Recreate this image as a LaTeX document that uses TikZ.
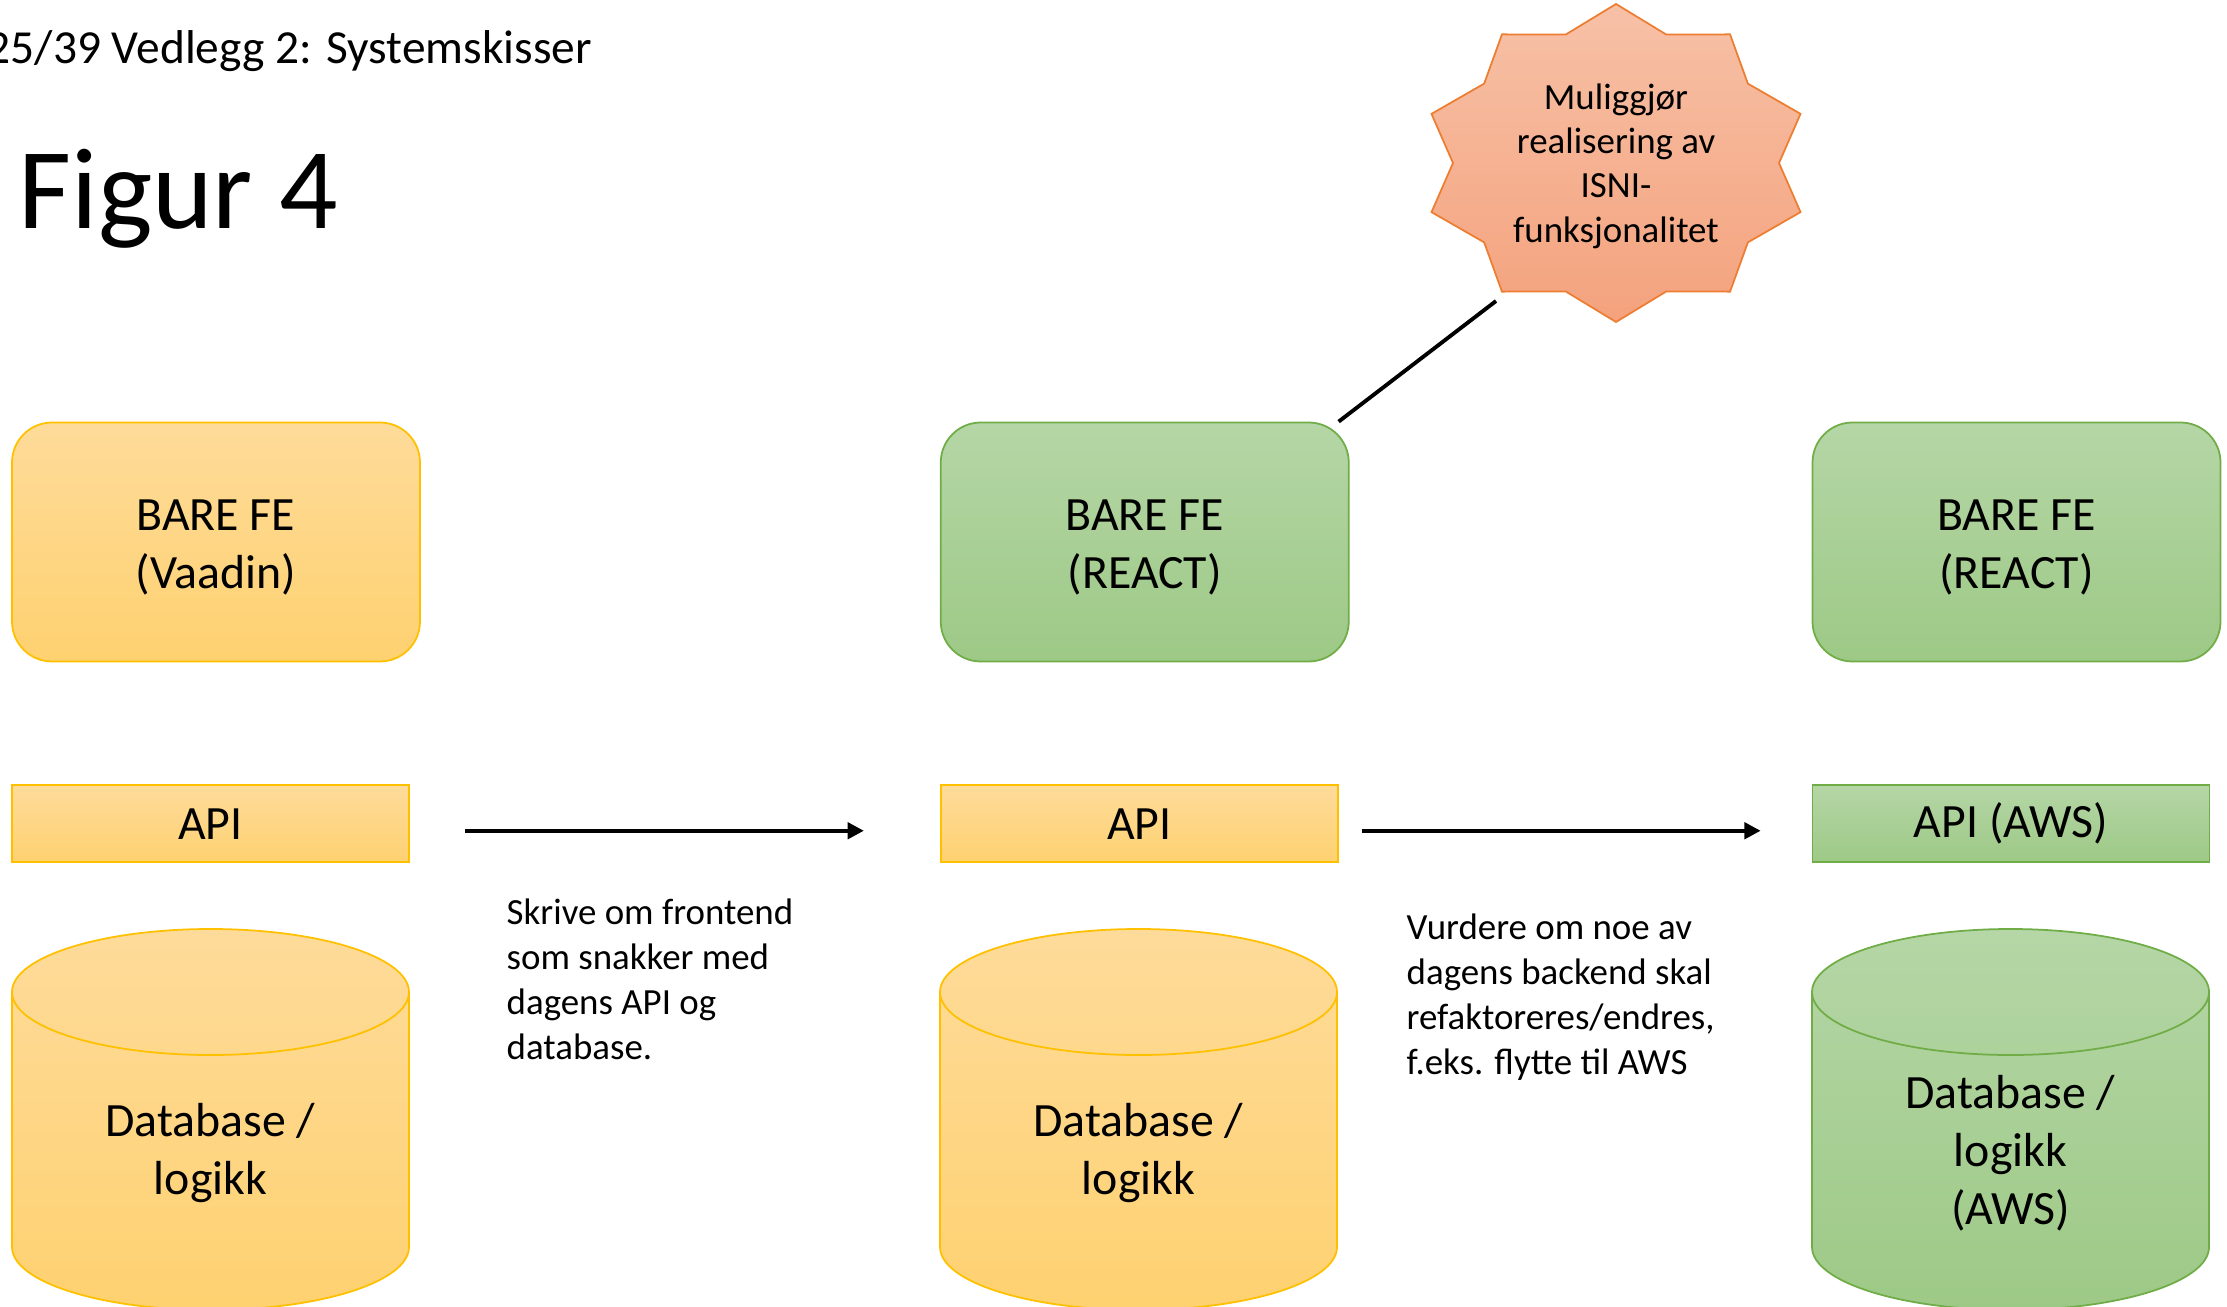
\documentclass[tikz,border=0pt]{standalone}
\usepackage{fontspec}
\setmainfont{Carlito}
\usepackage{tikz}
\usetikzlibrary{positioning}
\usetikzlibrary{shapes, arrows.meta, calc}
\definecolor{goldtop}{HTML}{FEDB9A}
\definecolor{goldbot}{HTML}{FED170}
\definecolor{goldline}{HTML}{FFC000}
\definecolor{greentop}{HTML}{B5D6A6}
\definecolor{greenbot}{HTML}{9DC986}
\definecolor{greenline}{HTML}{70AD47}
\definecolor{bursttop}{HTML}{F7C1A7}
\definecolor{burstbot}{HTML}{F4A27D}
\definecolor{burstline}{HTML}{ED7D31}
\newcommand{\toprule}{\rule{0pt}{12pt}}
\tikzstyle{febox} = [rectangle, draw, rounded corners=4mm, minimum width=40.8mm, minimum height=23.9mm,
inner sep=0pt, align=center, line width=0.5pt, font=\fontsize{13.6}{16.5}\selectfont]
\tikzstyle{apibox} = [rectangle, draw, minimum width=39.7mm, minimum height=7.7mm, inner sep=0pt,
line width=0.5pt, font=\fontsize{13.6}{16.5}\selectfont]
\tikzstyle{goldfill} = [top color=goldtop, bottom color=goldbot, draw=goldline]
\tikzstyle{greenfill} = [top color=greentop, bottom color=greenbot, draw=greenline]
\tikzstyle{dbtext} = [align=center, inner sep=0pt, font=\fontsize{13.6}{16.5}\selectfont]
\tikzstyle{note} = [align=left, inner sep=0pt, anchor=north west, font=\fontsize{10.5}{12.8}\selectfont]
\tikzstyle{flow} = [draw, line width=1.1pt, -{Triangle[length=4.6pt, width=4.6pt]}]

\begin{document}
\begin{tikzpicture}[x=0.1mm, y=-0.1mm]
	\useasboundingbox (0,0) rectangle (2227,1307);
	
	% Titles
	\node [anchor=base west, inner sep=0pt, font=\fontsize{13.5}{16}\selectfont] (header) at (-14,64) {25/39 Vedlegg 2: Systemskisser};
	\node [anchor=base west, inner sep=0pt, font=\fontsize{32.8}{40}\selectfont] (figtitle) at (18,229) {Figur 4};
	
	% Place frontend boxes
	\node [febox, goldfill] 						(fe1) at (216,542) 	{\toprule BARE FE\\(Vaadin)};
	\node [febox, greenfill, right=51.9mm of fe1] 	(fe2) 				{\toprule BARE FE\\(REACT)};
	\node [febox, greenfill, right=46.2mm of fe2] 	(fe3) 				{\toprule BARE FE\\(REACT)};
	
	% API layer
	\node [apibox, goldfill, below=12.2mm of fe1.south west, anchor=north west] 	(api1) 	{API};
	\node [apibox, goldfill, below=12.2mm of fe2.south west, anchor=north west] 	(api2) 	{API};
	\node [apibox, greenfill, below=12.2mm of fe3.south west, anchor=north west] 	(api3) 	{API (AWS)};
	
	% Databases
	\foreach \xl/\fa/\fb/\rim in {12/goldtop/goldbot/goldline, 940/goldtop/goldbot/goldline, 1812/greentop/greenbot/greenline} {
		\draw [line width=0.5pt, draw=\rim, top color=\fa, bottom color=\fb] (\xl,992) arc [start angle=180, end angle=360, x radius=198.5, y radius=63]
			-- ++(0,255) arc [start angle=0, end angle=180, x radius=198.5, y radius=63] -- cycle;
		\draw [line width=0.5pt, draw=\rim] (\xl,992) arc [start angle=180, end angle=0, x radius=198.5, y radius=63];
	}
	\node [dbtext] (db1) at (210.5,1153) 	{Database /\\logikk};
	\node [dbtext] (db2) at (1138.5,1153) 	{Database /\\logikk};
	\node [dbtext] (db3) at (2010.5,1153) 	{Database /\\logikk\\(AWS)};
	
	% Burst
	\draw [line width=0.5pt, draw=burstline, top color=bursttop, bottom color=burstbot] (1616,4)
		\foreach \k [evaluate=\k as \rx using {194-31*mod(\k,2)}, evaluate=\k as \ry using {159-24*mod(\k,2)}] in {1,...,19} {
			-- ($(1616,163)+({270+18*\k}:{\rx} and {\ry})$) } -- cycle;
	\node [align=center, inner sep=0pt, font=\fontsize{10.5}{12.6}\selectfont] (isni) at (1616,166) {Muliggjør\\realisering av\\ISNI-\\funksjonalitet};
	\coordinate (burstfoot) at (1496,301);
	
	% Draw edges
	\path [flow] ([xshift=5.5mm, yshift=-0.7mm]api1.east) 	-- ([xshift=-7.6mm, yshift=-0.7mm]api2.west);
	\path [flow] ([xshift=2.3mm, yshift=-0.7mm]api2.east) 	-- ([xshift=-5.1mm, yshift=-0.7mm]api3.west);
	\draw [line width=1.1pt] ([xshift=-1.1mm]fe2.north east) -- (burstfoot);
	
	% Notes
	\node [note] (step1) at (506,898) 	{Skrive om frontend\\som snakker med\\dagens API og\\database.};
	\node [note] (step2) at (1406,913) 	{Vurdere om noe av\\dagens backend skal\\refaktoreres/endres,\\f.eks. flytte til AWS};
	
\end{tikzpicture}
\end{document}
